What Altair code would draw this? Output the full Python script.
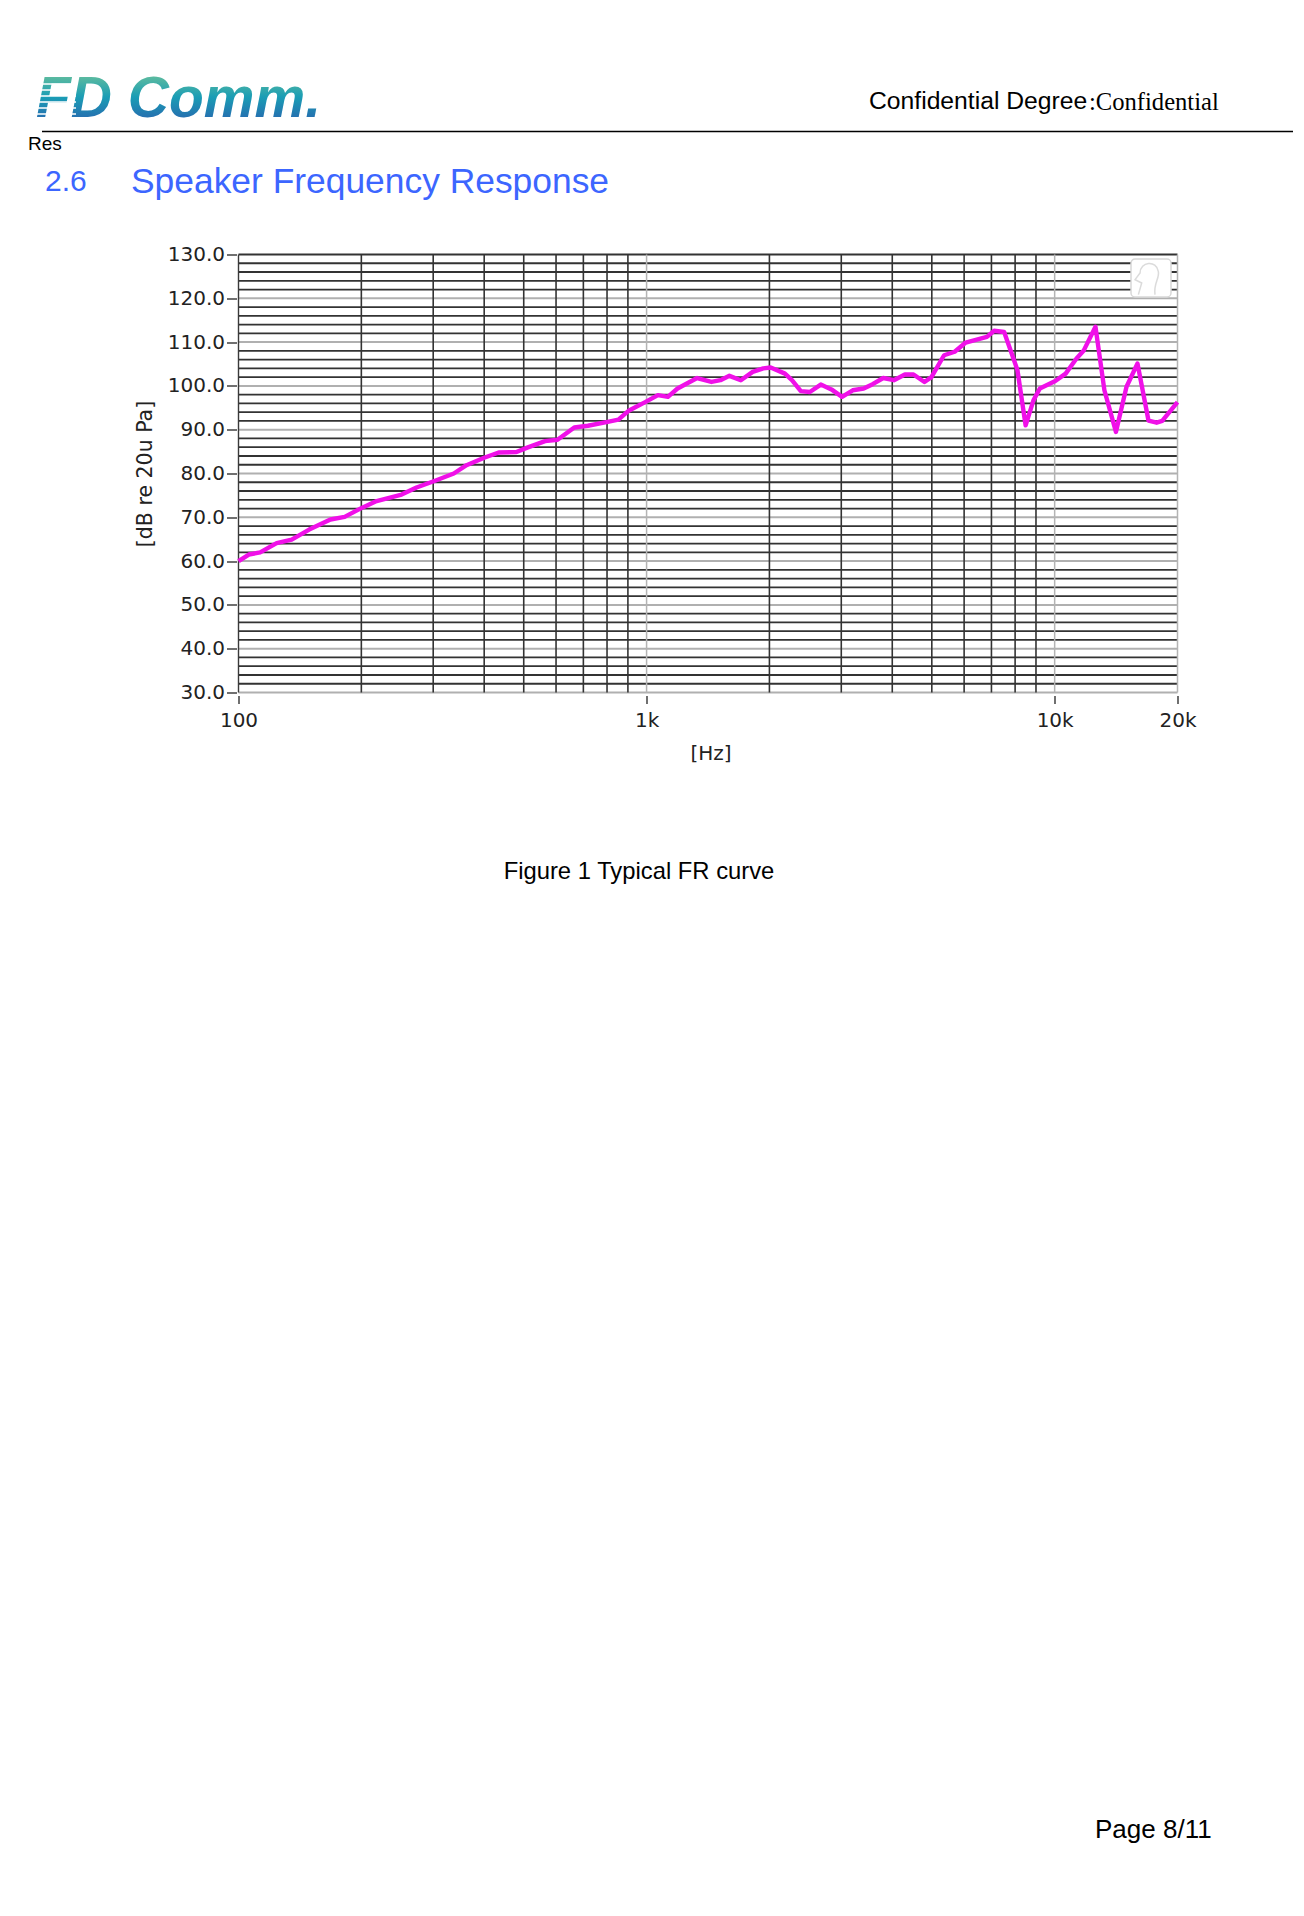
import altair as alt
import pandas as pd

freq = [100,106,113,124,135,149,168,182,201,218,251,273,302,337,362,400,434,480,510,564,605,665,718,803,853,906,
        992,1066,1128,1191,1330,1442,1517,1596,1702,1820,1932,2014,2183,2271,2388,2512,2672,2838,3013,3200,3404,3581,
        3802,4036,4295,4510,4797,4989,5358,5689,6053,6823,7109,7520,8106,8489,8872,9198,10035,10640,11300,11770,
        12590,13240,14130,15000,15960,16980,17780,18350,20000]
spl = [60.0,61.5,62.0,64.1,64.9,67.2,69.5,70.1,72.2,73.7,75.2,76.8,78.3,80.0,81.9,83.6,84.8,84.9,85.9,87.4,87.7,90.5,90.9,91.8,92.3,94.4,
       96.3,97.9,97.5,99.4,101.8,100.9,101.3,102.3,101.3,103.2,104.0,104.2,102.8,101.3,98.8,98.6,100.3,99.2,97.5,99.0,99.4,100.4,
       101.8,101.3,102.6,102.6,100.9,102.0,107.0,107.8,109.9,111.2,112.6,112.3,103.6,91.0,96.7,99.4,101.1,102.8,106.2,108.0,
       113.5,99.0,89.5,99.8,105.1,92.1,91.6,92.0,96.3]
major_f = [200,300,400,500,600,700,800,900,2000,3000,4000,5000,6000,7000,8000,9000]
light_f = [1000,10000,20000]
edge_f = [100]
dark_db = [v for v in range(32,130,2) if v % 10 != 0] + [130]
light_db = [30,40,50,60,70,80,90,100,110,120]
x_ticks = [100,1000,10000,20000]
y_ticks = [30,40,50,60,70,80,90,100,110,120,130]
logo_stripes = [84,90,96,102,108,114]

OX, OY = 238.5, 254.5      # page position of the plot area
W, H = 939, 438
SANS = "Liberation Sans"

def px(x): return alt.value(x - OX)
def py(y): return alt.value(y - OY)

xs = alt.Scale(type="log", domain=[100,20000], nice=False)
ys = alt.Scale(domain=[30,130], nice=False)

XAX = alt.Axis(
    values=x_ticks, title="[Hz]", grid=False, domain=False, offset=3, tickSize=8, tickColor="#222222",
    tickWidth=1.3, labelFont="DejaVu Sans", labelFontSize=20, labelColor="#222222", labelPadding=7,
    labelExpr="datum.value >= 1000 ? (datum.value/1000) + 'k' : '' + datum.value", labelOverlap=False,
    labelFlush=False, titleFont="DejaVu Sans", titleFontSize=20, titleFontWeight="normal",
    titleColor="#222222", titlePadding=13, titleX=472)
YAX = alt.Axis(
    values=y_ticks, title="[dB re 20u Pa]", grid=False, domain=False, offset=2, tickSize=10, tickColor="#222222",
    tickWidth=1.3, format=".1f", labelFont="DejaVu Sans", labelFontSize=20, labelColor="#222222", labelPadding=2,
    labelOverlap=False, titleFont="DejaVu Sans", titleFontSize=20.5, titleFontWeight="normal",
    titleColor="#222222", titlePadding=12)

X = alt.X("f:Q", scale=xs, axis=XAX)
Y = alt.Y("d:Q", scale=ys, axis=YAX)

def vrules(vals, color, w):
    return alt.Chart(pd.DataFrame({"f":vals})).mark_rule(color=color, strokeWidth=w).encode(x=X)
def hrules(vals, color, w):
    return alt.Chart(pd.DataFrame({"d":vals})).mark_rule(color=color, strokeWidth=w).encode(y=Y)

curve = alt.Chart(pd.DataFrame({"f":freq,"d":spl})).mark_line(color="#f010e8", strokeWidth=4.4, strokeJoin="round").encode(
    x=X, y=Y, order=alt.Order("f:Q"))

def label(text, x, y, size, color="#000000", font=SANS, align="left", **kw):
    return alt.Chart(pd.DataFrame({"t":[text]})).mark_text(
        fontSize=size, font=font, color=color, align=align, baseline="middle", **kw
    ).encode(x=px(x), y=py(y), text="t:N")

logo_fill = alt.LinearGradient(gradient="linear", x1=0, y1=0, x2=0, y2=1, stops=[
    alt.GradientStop(color="#6cc29a", offset=0.1), alt.GradientStop(color="#1a9db5", offset=0.5),
    alt.GradientStop(color="#2a5fae", offset=0.95)])
logo = label("FD Comm.", 36, 100, 57, color=logo_fill, fontWeight="bold", fontStyle="italic")
stripes = alt.Chart(pd.DataFrame({"s":[v - OY for v in logo_stripes]})).mark_rule(color="#ffffff", strokeWidth=1.6).encode(
    x=px(30), x2=px(76), y=alt.Y("s:Q", scale=None))

header_rule = alt.Chart(pd.DataFrame({"a":[0]})).mark_rule(color="#000000", strokeWidth=1.6).encode(
    x=px(42), x2=px(1293), y=py(131.5))
icon = alt.Chart(pd.DataFrame({"a":[0]})).mark_rect(
    fill="#ffffff", stroke="#d8d8d8", strokeWidth=1.5, cornerRadius=4).encode(
    x=px(1131), x2=px(1171), y=py(259), y2=py(297))
head = alt.Chart(pd.DataFrame({"a":[0]})).mark_point(
    shape="M-0.7,1 L-0.5,0.3 L-0.9,0.1 L-0.6,-0.3 C-0.6,-1 0.4,-1.1 0.5,-0.4 C0.6,0 0.2,0.3 0.3,1",
    size=1100, filled=False, color="#cccccc", strokeWidth=1.5).encode(x=px(1150), y=py(278))

layers = [
    hrules(dark_db, "#333333", 1.8), hrules(light_db, "#b0b0b0", 2),
    vrules(major_f, "#333333", 1.6), vrules(light_f, "#b4b4b4", 1.5), vrules(edge_f, "#3a3a3a", 1.4),
    icon, head, curve, logo, stripes, header_rule,
    label("Confidential Degree", 869, 102, 24.7),
    label(":Confidential", 1089, 103, 24.6, font="Liberation Serif"),
    label("Res", 28, 144, 19),
    label("2.6", 45, 182, 30, color="#3c66ff"),
    label("Speaker Frequency Response", 131, 182, 35.4, color="#3c66ff"),
    label("Figure 1 Typical FR curve", 639, 872, 23.8, align="center"),
    label("Page 8/11", 1095, 1830, 26),
]

chart = alt.layer(*layers).resolve_scale(x="shared", y="shared").properties(
    width=W, height=H, background="#ffffff",
    padding={"left": OX-8, "top": OY-8, "right": 1288-(OX-8)-W, "bottom": 1895-(OY-8)-H},
    autosize=alt.AutoSizeParams(type="none"),
).configure_view(stroke=None)

chart.save("out.html", embed_options={"renderer": "svg", "actions": False})
